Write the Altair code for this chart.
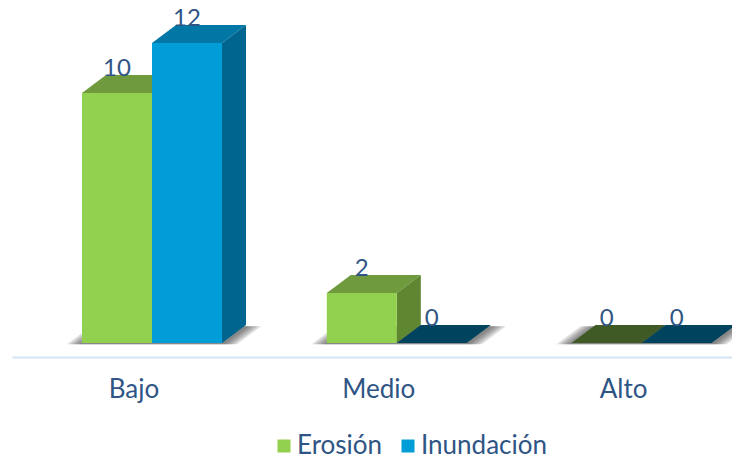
import altair as alt
import pandas as pd

# Chart values
categories = ["Bajo", "Medio", "Alto"]
series_names = ["Erosión", "Inundación"]
erosion = [10, 2, 0]
inundacion = [12, 0, 0]

# Face colours per series
front_colors = ["#92d050", "#009dd9"]
top_colors = ["#6f9a3e", "#0077a5"]
side_colors = ["#5f8630", "#006690"]
floor_colors = ["#3f5a24", "#00435f"]
text_color = "#2f5585"
FONT = "Lato"

# Box geometry in data units: x unit = one category, y unit = one count
UNIT_X = 244.8
BAR_W = 70 / UNIT_X
DEPTH_X = 24 / UNIT_X
DEPTH_Y = 18 / 25
LABEL_LIFT = 24.5 / 25

front_rows, face_rows, label_rows, shadow_rows = [], [], [], []


def add_parallelogram(rows, key, fill, x0, x1, low, dy=DEPTH_Y):
    """Flat face seen from above: slanted ends, horizontal top and bottom edges."""
    rows.append(dict(key=key, fill=fill, x=x0, y=low, y2=low))
    rows.append(dict(key=key, fill=fill, x=x0 + DEPTH_X, y=low + dy, y2=low))
    rows.append(dict(key=key, fill=fill, x=x1, y=low + dy, y2=low))
    rows.append(dict(key=key, fill=fill, x=x1 + DEPTH_X, y=low + dy, y2=low + dy))


for c, cat in enumerate(categories):
    # Soft ground shadow: nested translucent slabs around the whole cluster
    for off in [3, 6, 9, 12, 15]:
        pad = off / UNIT_X
        add_parallelogram(shadow_rows, f"{cat}-{off}", "#3c3c3c",
                          c - BAR_W - pad, c + BAR_W + pad, -0.05)
    for s, values in enumerate([erosion, inundacion]):
        v = values[c]
        x0 = c - BAR_W + s * BAR_W
        x1 = x0 + BAR_W
        front_rows.append(dict(series=series_names[s], x=x0, x2=x1, y=0, y2=v))
        label_rows.append(dict(x=(x0 + x1) / 2, y=v + LABEL_LIFT, label=v))
        top = floor_colors[s] if v == 0 else top_colors[s]
        add_parallelogram(face_rows, f"top-{c}-{s}", top, x0, x1, v)
        if v > 0:
            key = f"side-{c}-{s}"
            face_rows.append(dict(key=key, fill=side_colors[s], x=x1, y=v, y2=0))
            face_rows.append(dict(key=key, fill=side_colors[s], x=x1 + DEPTH_X, y=v + DEPTH_Y, y2=DEPTH_Y))

x_scale = alt.Scale(domain=[-140 / UNIT_X, 580 / UNIT_X], nice=False, zero=False)
y_scale = alt.Scale(domain=[-14 / 25, 343 / 25], nice=False, zero=False)

label_expr = "[" + ",".join(f"'{c}'" for c in categories) + "][datum.value]"
x_axis = alt.Axis(
    values=list(range(len(categories))),
    labelExpr=label_expr,
    title=None,
    grid=False,
    ticks=False,
    domainColor="#d5e3f4",
    domainWidth=2,
    labelFont=FONT,
    labelFontSize=26,
    labelColor=text_color,
    labelOffset=-18.5,
    labelPadding=19,
    labelFlush=False,
    labelOverlap=False,
)


def x_enc(field="x"):
    return alt.X(f"{field}:Q", scale=x_scale, axis=x_axis)


def y_enc(field="y"):
    return alt.Y(f"{field}:Q", scale=y_scale, axis=None, stack=None)


shadows = alt.Chart(pd.DataFrame(shadow_rows)).mark_area(
    orient="vertical", color="#3c3c3c", opacity=0.17
).encode(x=x_enc(), y=y_enc(), y2="y2:Q", detail="key:N")

faces = alt.Chart(pd.DataFrame(face_rows)).mark_area(orient="vertical").encode(
    x=x_enc(), y=y_enc(), y2="y2:Q",
    fill=alt.Fill("fill:N", scale=None),
    detail="key:N",
)

fronts = alt.Chart(pd.DataFrame(front_rows)).mark_bar().encode(
    x=x_enc(), x2="x2:Q", y=y_enc(), y2="y2:Q",
    color=alt.Color(
        "series:N",
        scale=alt.Scale(domain=series_names, range=front_colors),
        sort=series_names,
        legend=alt.Legend(
            title=None,
            orient="none",
            direction="horizontal",
            legendX=259,
            legendY=433,
            symbolType="square",
            symbolSize=169,
            symbolStrokeWidth=0,
            labelFont=FONT,
            labelFontSize=26,
            labelColor=text_color,
            labelOffset=0,
            columnPadding=12,
        ),
    ),
)

labels = alt.Chart(pd.DataFrame(label_rows)).mark_text(
    font=FONT, fontSize=24, color=text_color, baseline="middle", align="center"
).encode(x=x_enc(), y=y_enc(), text="label:Q")

chart = alt.layer(shadows, faces, fronts, labels).properties(
    width=720,
    height=357,
    padding={"left": 12, "top": 0, "right": 0, "bottom": 99},
    autosize=alt.AutoSizeParams(type="none"),
    background="white",
).configure_view(stroke=None)

chart.save("out.html", embed_options={"renderer": "svg", "actions": False})
